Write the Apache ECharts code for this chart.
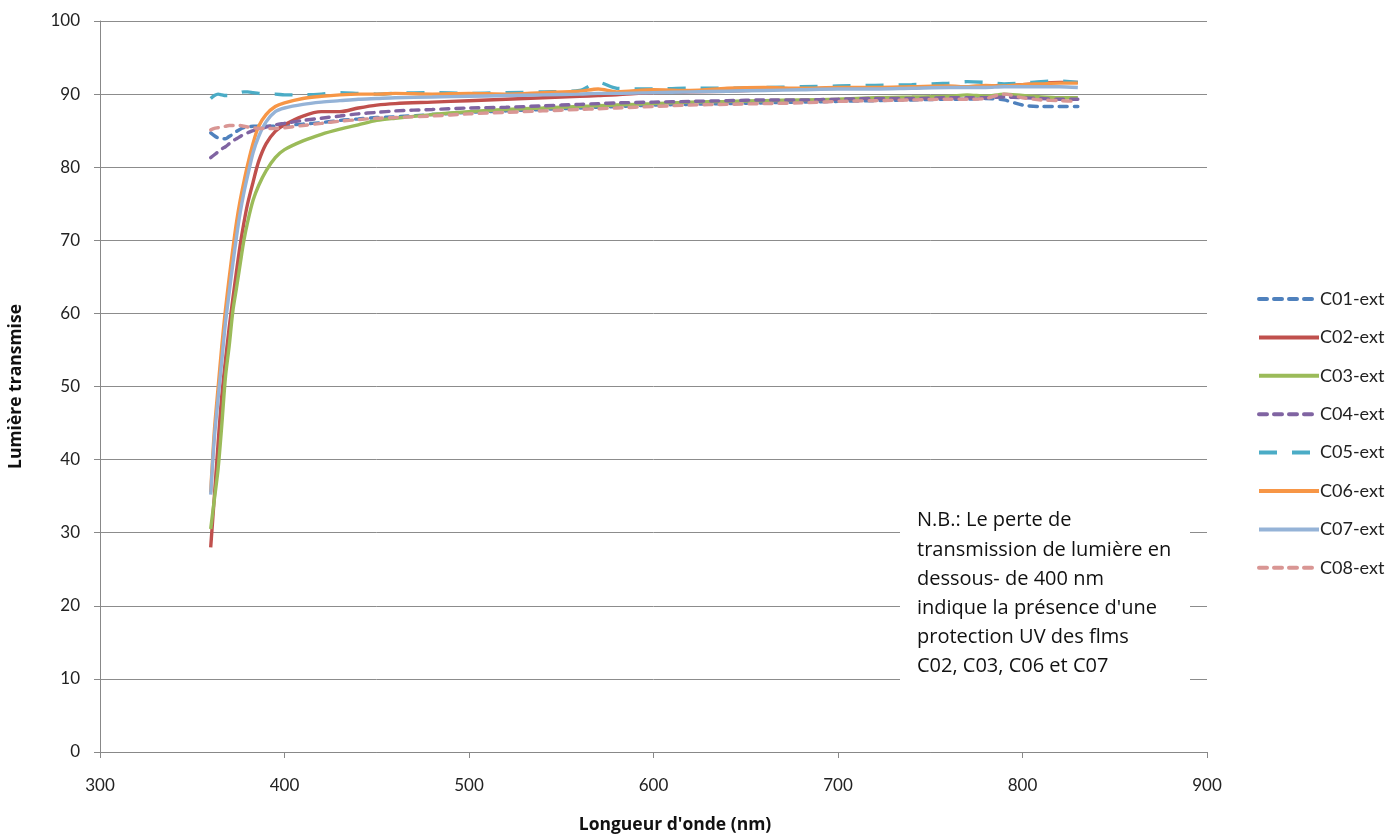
<!DOCTYPE html>
<html>
<head>
<meta charset="utf-8">
<script src="https://cdn.jsdelivr.net/npm/echarts@6/dist/echarts.min.js"></script>
<style>
html,body{margin:0;padding:0;background:#fff;}
#chart{width:1391px;height:838px;}
</style>
</head>
<body>
<div id="chart"></div>
<script>
const wavelengths = [360,362,364,366,368,370,372,374,376,378,380,383,386,390,395,400,410,420,430,440,450,460,480,500,520,540,560,570,580,600,620,640,660,680,700,720,740,760,770,780,790,800,810,820,830];

const c01 = [84.7,84.3,84.0,83.9,83.9,84.2,84.5,84.9,85.2,85.4,85.5, 85.6,85.6,85.6,85.6,85.7, 85.9,86.1,86.4,86.6,86.8,86.9, 87.2,87.5,87.7,87.9,88.1, 88.2,88.3, 88.5,88.6,88.7,88.8,88.9,89.0,89.1,89.2,89.3, 89.3,89.4,89.2,88.5,88.3,88.3,88.3];
const c02 = [28.0,35.0,42.2,48.7,53.6,58.0,62.0,65.8,69.4,72.4,75.0, 78.0,80.8,83.2,84.9,85.8, 87.0,87.6,87.6,88.1,88.5,88.7, 88.9,89.1,89.3,89.5,89.7, 89.8,89.9, 90.2,90.3,90.4,90.6,90.7,90.8,90.8,90.9,91.0, 91.0,91.1,91.2,91.3,91.5,91.6,91.6];
const c03 = [30.5,34.6,38.7,44.7,51.3,55.5,60.3,63.5,66.8,70.0,72.5, 75.5,77.5,79.5,81.3,82.4, 83.6,84.5,85.2,85.8,86.4,86.7, 87.2,87.6,87.9,88.1,88.3, 88.4,88.5, 88.7,88.9,89.0,89.1,89.2,89.3,89.5,89.6,89.7, 89.9,89.7,90.0,89.8,89.6,89.5,89.5];
const c04 = [81.3,81.7,82.1,82.5,82.8,83.2,83.6,83.9,84.2,84.5,84.7, 85.0,85.2,85.5,85.8,86.0, 86.4,86.7,87.0,87.3,87.5,87.7, 87.9,88.1,88.2,88.4,88.6, 88.7,88.8, 88.9,89.0,89.1,89.2,89.2,89.3,89.4,89.4,89.5, 89.5,89.5,89.6,89.5,89.4,89.3,89.3];
const c05 = [89.4,89.8,90.0,89.9,89.8,89.8,89.9,90.0,90.2,90.3,90.3, 90.2,90.1,90.0,90.0,89.9, 89.9,90.0,90.2,90.1,90.0,90.1, 90.2,90.1,90.2,90.3,90.5, 91.6,90.8, 90.7,90.8,90.8,90.9,91.0,91.1,91.2,91.3,91.5, 91.7,91.6,91.4,91.5,91.7,91.8,91.6];
const c06 = [35.5,44.0,49.8,55.5,60.5,64.8,68.8,72.5,75.5,78.0,80.3, 83.3,85.6,87.2,88.3,88.8, 89.4,89.7,89.9,90.0,90.0,90.1, 90.0,90.1,90.0,90.2,90.4, 90.7,90.3, 90.6,90.5,90.8,90.9,90.8,90.9,90.9,91.0,91.1, 91.0,91.2,91.1,91.3,91.4,91.5,91.5];
const c07 = [35.2,43.0,48.3,53.5,58.7,62.8,66.8,70.5,73.8,76.5,78.8, 82.0,84.2,86.2,87.6,88.1, 88.6,88.9,89.1,89.3,89.4,89.5, 89.6,89.7,89.8,89.9,90.0, 90.1,90.1, 90.2,90.3,90.4,90.5,90.6,90.7,90.7,90.8,90.9, 90.9,90.9,91.0,91.0,91.0,91.0,90.9];
const c08 = [85.1,85.3,85.4,85.5,85.6,85.7,85.7,85.7,85.7,85.6,85.5, 85.4,85.3,85.3,85.3,85.4, 85.7,86.0,86.3,86.5,86.7,86.8, 87.0,87.3,87.5,87.7,87.9, 88.0,88.1, 88.3,88.5,88.6,88.7,88.8,89.0,89.1,89.2,89.3, 89.3,89.4,90.0,89.5,89.2,89.1,89.0];

const seriesNames = ['C01-ext','C02-ext','C03-ext','C04-ext','C05-ext','C06-ext','C07-ext','C08-ext'];
const seriesValues = [c01,c02,c03,c04,c05,c06,c07,c08];
const xTicks = {min:300, max:900, interval:100};
const yTicks = {min:0, max:100, interval:10};
const noteLines = ["N.B.: Le perte de","transmission de lumière en","dessous- de 400 nm","indique la présence d'une","protection UV des flms","C02, C03, C06 et C07"];

const colors = ['#4F81BD','#C0504D','#9BBB59','#8064A2','#4BACC6','#F79646','#95B3D7','#D99694'];
const styles = [
  {type:[8,7], cap:'round'},
  {type:'solid', cap:'butt'},
  {type:'solid', cap:'butt'},
  {type:[8,7], cap:'round'},
  {type:[18,15], cap:'butt'},
  {type:'solid', cap:'butt'},
  {type:'solid', cap:'butt'},
  {type:[8,7], cap:'round'}
];

const font = 'Lato, "Open Sans", sans-serif';
const wideFont = '"Open Sans", Lato, sans-serif';

const chart = echarts.init(document.getElementById('chart'), null, {renderer:'canvas'});
chart.setOption({
  animation:false,
  backgroundColor:'#fff',
  grid:{left:100, right:184, top:21, bottom:86, containLabel:false, outerBoundsMode:'none'},
  legend:{
    orient:'vertical',
    left:1252, top:285,
    itemWidth:60, itemHeight:14, itemGap:20.4,
    itemStyle:{opacity:0},
    lineStyle:{width:4},
    textStyle:{fontFamily:font, fontSize:18, color:'#222', padding:[0,0,0,-4]},
    data:seriesNames
  },
  xAxis:{
    type:'value', min:xTicks.min, max:xTicks.max, interval:xTicks.interval,
    axisLine:{show:true, lineStyle:{color:'#888', width:1}},
    axisTick:{show:true, length:6, lineStyle:{color:'#888'}},
    axisLabel:{margin:25, fontFamily:font, fontSize:17, color:'#222'},
    splitLine:{show:false}
  },
  yAxis:{
    type:'value', min:yTicks.min, max:yTicks.max, interval:yTicks.interval,
    name:'Lumière transmise', nameLocation:'middle', nameGap:75, nameRotate:90,
    nameTextStyle:{fontFamily:wideFont, fontSize:17.5, fontWeight:'bold', color:'#111'},
    axisLine:{show:true, lineStyle:{color:'#888', width:1}},
    axisTick:{show:true, length:6, lineStyle:{color:'#888'}},
    axisLabel:{margin:20, fontFamily:font, fontSize:17, color:'#222'},
    splitLine:{show:true, lineStyle:{color:'#8c8c8c', width:1}}
  },
  graphic:[
    {type:'rect', z:100, shape:{x:900, y:503, width:290, height:195}, style:{fill:'#fff'}},
    {type:'text', z:101, x:917, y:506, style:{
      text:noteLines.join('\n'), fontFamily:wideFont, fontSize:20, lineHeight:29.2, fill:'#111'
    }},
    {type:'text', z:101, x:675, y:816, style:{
      text:"Longueur d'onde (nm)", fontFamily:wideFont, fontSize:17.5, fontWeight:'bold', fill:'#111', align:'center'
    }}
  ],
  series: seriesNames.map((name,k)=>({
    name:name,
    type:'line',
    smooth:0.3,
    symbol:'none',
    data: wavelengths.map((w,i)=>[w, seriesValues[k][i]]),
    lineStyle:{color:colors[k], width:3.4, type:styles[k].type, cap:styles[k].cap},
    itemStyle:{color:colors[k]},
    z:2+k
  }))
});
</script>
</body>
</html>
